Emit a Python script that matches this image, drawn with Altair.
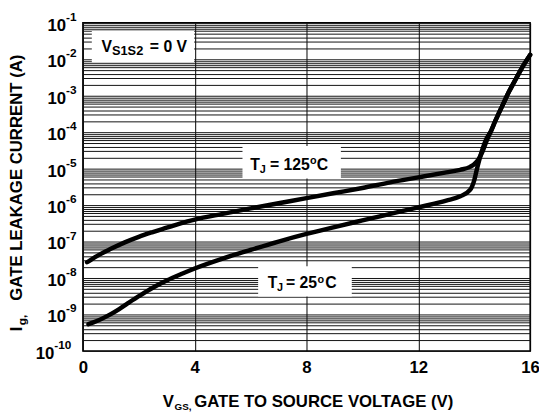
import altair as alt
import pandas as pd

# ---- data ----
vgs_125 = [0.15, 0.5, 1.0, 1.5, 2.0, 2.5, 3.0, 3.5, 4.0, 5.0, 6.0, 7.0, 8.0, 9.0, 10.0,
           11.0, 12.0, 13.0, 13.5, 13.85, 14.0, 14.15, 14.3, 14.45, 14.6, 14.75, 15.0,
           15.25, 15.5, 15.75, 16.0]
ig_125 = [2.7e-8, 4.0e-8, 6.3e-8, 9.5e-8, 1.35e-7, 1.82e-7, 2.4e-7, 3.16e-7, 4.0e-7,
          5.75e-7, 8.1e-7, 1.12e-6, 1.55e-6, 2.14e-6, 2.95e-6, 4.2e-6, 5.75e-6, 7.9e-6,
          9.3e-6, 1.12e-5, 1.32e-5, 1.78e-5, 3.0e-5, 6.0e-5, 1.07e-4, 2.0e-4, 5.2e-4,
          1.32e-3, 3.0e-3, 6.6e-3, 1.32e-2]

vgs_25 = [0.2, 0.5, 0.9, 1.3, 1.6, 2.0, 2.5, 3.0, 3.5, 4.0, 5.0, 6.0, 7.0, 8.0, 9.0, 10.0,
          11.0, 12.0, 13.0, 13.5, 13.85, 14.0, 14.1, 14.3, 14.45, 14.6, 14.75, 15.0,
          15.25, 15.5, 15.75, 16.0]
ig_25 = [5.4e-10, 6.6e-10, 9.3e-10, 1.41e-9, 2.0e-9, 3.16e-9, 5.4e-9, 8.5e-9, 1.26e-8,
         1.82e-8, 3.4e-8, 5.9e-8, 1.0e-7, 1.62e-7, 2.5e-7, 3.8e-7, 5.75e-7, 8.7e-7,
         1.32e-6, 1.74e-6, 2.6e-6, 4.8e-6, 1.0e-5, 3.5e-5, 6.9e-5, 1.07e-4, 2.0e-4,
         5.2e-4, 1.32e-3, 3.0e-3, 6.6e-3, 1.32e-2]

x_ticks = [0, 4, 8, 12, 16]
decade_exps = [-1, -2, -3, -4, -5, -6, -7, -8, -9, -10]

FONT = "Liberation Sans"

curves = pd.concat([
    pd.DataFrame({"vgs": vgs_125, "ig": ig_125, "series": "125"}),
    pd.DataFrame({"vgs": vgs_25, "ig": ig_25, "series": "25"}),
])

xs = alt.Scale(domain=[0, 16], nice=False, zero=False)
ys = alt.Scale(type="log", domain=[1e-10, 1e-1], nice=False)

grid_vals = [k * 10.0 ** n for n in range(-10, -1) for k in range(1, 10)] + [1e-1]

lines = alt.Chart(curves).mark_line(
    color="black", strokeWidth=4.5, interpolate="monotone", strokeCap="round"
).encode(
    x=alt.X("vgs:Q", scale=xs, title=None, axis=alt.Axis(
        values=x_ticks, grid=True, gridColor="#000", gridWidth=1, gridOpacity=1,
        ticks=False, tickSize=0,
        domain=False, labelFont=FONT, labelFontSize=17, labelFontWeight="bold",
        labelColor="black", labelPadding=9, labelFlush=False)),
    y=alt.Y("ig:Q", scale=ys, title=None, axis=alt.Axis(
        values=grid_vals, grid=True, gridColor="#111", gridWidth=1, gridOpacity=1,
        labels=False, ticks=False, tickSize=0, domain=False)),
    detail="series:N",
)

# ---- annotation boxes (data coordinates) ----
boxes = pd.DataFrame({
    "x1": [0.32, 5.71, 6.27],
    "x2": [3.98, 9.23, 9.62],
    "y1": [6.0e-2, 4.2e-5, 2.1e-8],
    "y2": [8.3e-3, 5.4e-6, 3.1e-9],
})
box_layer = alt.Chart(boxes).mark_rect(color="white").encode(
    x=alt.X("x1:Q", scale=xs, title=None), x2="x2:Q",
    y=alt.Y("y1:Q", scale=ys, title=None), y2="y2:Q",
)


def data_text(txt, x, y, dx, dy, size):
    return alt.Chart(pd.DataFrame({"x": [x], "y": [y], "t": [txt]})).mark_text(
        font=FONT, fontWeight="bold", fontSize=size, color="black",
        align="left", baseline="alphabetic", dx=dx, dy=dy,
    ).encode(
        x=alt.X("x:Q", scale=xs, title=None),
        y=alt.Y("y:Q", scale=ys, title=None),
        text="t:N",
    )


def px_text(txt, x, y, size, align="left", angle=0):
    return alt.Chart(pd.DataFrame({"t": [txt]})).mark_text(
        font=FONT, fontWeight="bold", fontSize=size, color="black",
        align=align, baseline="alphabetic", angle=angle,
    ).encode(x=alt.value(x), y=alt.value(y), text="t:N")


ann = []
# V_S1S2 = 0 V
c1 = (2.15, 2.24e-2)
ann += [data_text("V", *c1, -42, 6, 16), data_text("S1S2", *c1, -31.5, 9, 13),
        data_text("= 0 V", *c1, 7, 6, 16)]
# T_J = 125 oC
c2 = (7.47, 1.45e-5)
ann += [data_text("T", *c2, -42, 7, 16), data_text("J", *c2, -32.5, 10, 11),
        data_text("= 125", *c2, -22, 7, 16), data_text("o", *c2, 18.5, 1, 11),
        data_text("C", *c2, 25.5, 7, 16)]
# T_J = 25 oC
c3 = (7.95, 8.0e-9)
ann += [data_text("T", *c3, -38, 7, 16), data_text("J", *c3, -28.5, 10, 11),
        data_text("= 25", *c3, -19.5, 7, 16), data_text("o", *c3, 12.5, 1, 11),
        data_text("C", *c3, 20.5, 7, 16)]

# ---- y decade labels: 10 with superscript exponent ----
dec = pd.DataFrame({"e": decade_exps})
dec["v"] = [10.0 ** e for e in decade_exps]
dec["exp"] = [str(e) for e in decade_exps]
dec["wide"] = [len(str(e)) > 2 for e in decade_exps]

ylabels = []
for wide, xr in [(False, -17), (True, -29)]:
    sub = dec[dec["wide"] == wide]
    ylabels.append(alt.Chart(sub).mark_text(
        font=FONT, fontWeight="bold", fontSize=17, color="black",
        align="right", baseline="alphabetic", dy=8,
    ).encode(x=alt.value(xr), y=alt.Y("v:Q", scale=ys, title=None), text=alt.value("10")))
    ylabels.append(alt.Chart(sub).mark_text(
        font=FONT, fontWeight="bold", fontSize=12, color="black",
        align="left", baseline="alphabetic", dy=-2,
    ).encode(x=alt.value(xr), y=alt.Y("v:Q", scale=ys, title=None), text="exp:N"))

# ---- axis titles ----
titles = [
    px_text("V", 81, 390, 17),
    px_text("GS,", 93, 393, 10),
    px_text("GATE TO SOURCE VOLTAGE (V)", 113, 390, 17),
    px_text("I", -62, 313, 17, angle=270),
    px_text("g,", -58, 307, 12, angle=270),
    px_text("GATE LEAKAGE CURRENT (A)", -62, 282, 17, angle=270),
]

chart = alt.layer(lines, box_layer, *ann, *ylabels, *titles).properties(
    width=454, height=333,
    autosize=alt.AutoSizeParams(type="none"),
    padding={"left": 76, "top": 12, "right": 9, "bottom": 62},
).configure_view(stroke="black", strokeWidth=1.5)

chart.save("out.html", embed_options={"renderer": "svg", "actions": False})
